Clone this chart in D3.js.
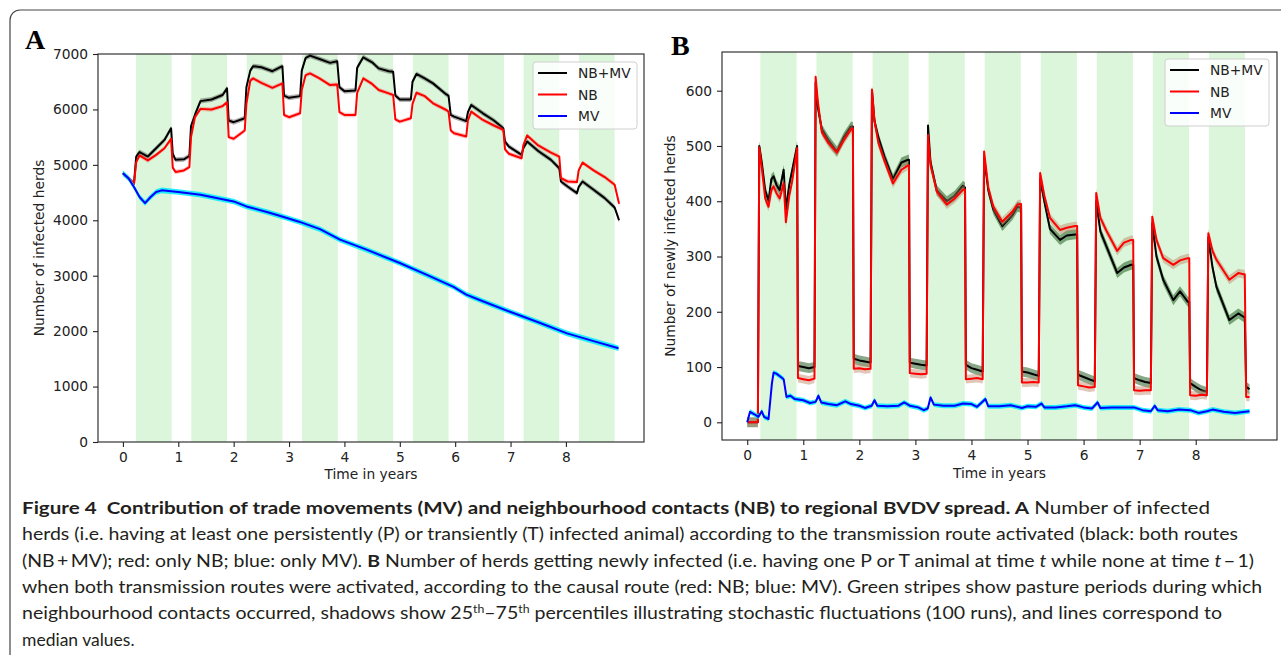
<!DOCTYPE html>
<meta charset="utf-8">
<head>
  <script src="https://d3js.org/d3.v7.min.js"></script>
  <style>
    body { margin: 0; background: #fff; }
    text { font-family: "DejaVu Sans", sans-serif; }
    .tick text { font-size: 13.8px; fill: #222; }
    .letter { font-family: "Liberation Serif", "Times New Roman", "DejaVu Serif", serif; font-weight: bold; font-size: 28px; }
    .caption { font-family: Lato, "Open Sans", sans-serif; font-size: 17.5px; fill: #231f20; white-space: pre; }
  </style>
</head>
<body>
<div id="my_dataviz"></div>
<script>
// pasture periods (green stripes), in years
var pastureStart = [0.235, 1.235, 2.235, 3.235, 4.235, 5.235, 6.235, 7.235, 8.235];
var pastureEnd   = [0.88, 1.88, 2.88, 3.88, 4.88, 5.88, 6.88, 7.88, 8.88];

var seriesNames = ["NB+MV", "NB", "MV"];
var xTicks = [0, 1, 2, 3, 4, 5, 6, 7, 8];
var yTicksA = [0, 1000, 2000, 3000, 4000, 5000, 6000, 7000];
var yTicksB = [0, 100, 200, 300, 400, 500, 600];

// Panel A: number of infected herds (medians)
var tA = [0, 0.1, 0.2, 0.24, 0.3, 0.45, 0.6, 0.75, 0.87, 0.9, 0.95, 1.1, 1.2, 1.23, 1.3, 1.4, 1.6, 1.8, 1.88, 1.91,
  2.0, 2.2, 2.23, 2.3, 2.35, 2.5, 2.7, 2.88, 2.91, 3.0, 3.2, 3.23, 3.3, 3.38, 3.55, 3.74, 3.87, 3.91, 4.0, 4.2,
  4.23, 4.34, 4.5, 4.62, 4.8, 4.88, 4.92, 5.0, 5.2, 5.23, 5.3, 5.45, 5.6, 5.84, 5.88, 5.92, 5.98, 6.2, 6.23, 6.29,
  6.5, 6.7, 6.87, 6.9, 6.97, 7.2, 7.23, 7.3, 7.5, 7.73, 7.88, 7.91, 8.03, 8.2, 8.23, 8.3, 8.5, 8.7, 8.88, 8.96];
var nbmvA = [4850, 4760, 4660, 5150, 5230, 5150, 5300, 5450, 5660, 5200, 5090, 5100, 5160, 5700, 5900, 6150, 6180, 6260, 6380, 5800,
  5770, 5840, 6400, 6700, 6780, 6760, 6690, 6780, 6250, 6210, 6240, 6700, 6930, 6970, 6910, 6840, 6870, 6400, 6330, 6340,
  6750, 6940, 6850, 6740, 6690, 6680, 6250, 6180, 6180, 6500, 6640, 6560, 6470, 6270, 6250, 5900, 5870, 5790, 5950, 6080,
  5930, 5800, 5660, 5420, 5330, 5180, 5300, 5420, 5250, 5090, 4940, 4700, 4610, 4490, 4600, 4700, 4550, 4400, 4230, 4000];
var nbA = [4850, 4760, 4660, 5050, 5170, 5080, 5180, 5300, 5470, 4950, 4870, 4900, 4960, 5500, 5860, 6010, 6000, 6060, 6130, 5500,
  5470, 5620, 6100, 6520, 6560, 6480, 6390, 6470, 5900, 5860, 5930, 6350, 6620, 6650, 6560, 6440, 6450, 5950, 5900, 5900,
  6300, 6560, 6460, 6350, 6290, 6260, 5820, 5780, 5840, 6100, 6300, 6240, 6110, 5990, 5960, 5620, 5570, 5510, 5800, 5960,
  5810, 5710, 5630, 5280, 5200, 5120, 5350, 5530, 5350, 5220, 5150, 4760, 4700, 4690, 4900, 5040, 4900, 4780, 4640, 4300];
var tAmv = [0, 0.1, 0.2, 0.3, 0.4, 0.5, 0.6, 0.7, 1.0, 1.4, 2.0, 2.23, 2.6, 2.89, 3.18, 3.56, 3.92, 4.4, 5.0, 5.5,
  5.97, 6.2, 6.5, 6.99, 7.5, 8.02, 8.5, 8.95];
var mvA = [4850, 4760, 4600, 4420, 4310, 4420, 4510, 4540, 4510, 4460, 4340, 4250, 4150, 4065, 3975, 3840, 3650, 3470, 3230, 3010,
  2800, 2660, 2540, 2350, 2160, 1960, 1820, 1690];
// half-width of the 25th-75th percentile shadow
var spreadA = [45, 40, 50];

// Panel B: number of newly infected herds (medians)
var tB = [0, 0.19, 0.215, 0.26, 0.32, 0.38, 0.43, 0.47, 0.52, 0.58, 0.65, 0.69, 0.75, 0.8, 0.89, 0.905, 1.0, 1.1, 1.2,
  1.22, 1.26, 1.33, 1.45, 1.6, 1.72, 1.85, 1.885, 1.9, 2.0, 2.1, 2.2,
  2.225, 2.27, 2.34, 2.45, 2.6, 2.75, 2.87, 2.885, 2.9, 3.0, 3.1, 3.2,
  3.225, 3.27, 3.38, 3.56, 3.7, 3.85, 3.885, 3.9, 4.0, 4.1, 4.2,
  4.225, 4.3, 4.39, 4.55, 4.73, 4.82, 4.885, 4.9, 5.0, 5.1, 5.2,
  5.225, 5.3, 5.4, 5.58, 5.7, 5.85, 5.885, 5.9, 6.0, 6.1, 6.2,
  6.225, 6.3, 6.4, 6.6, 6.72, 6.85, 6.885, 6.9, 7.0, 7.1, 7.2,
  7.225, 7.3, 7.42, 7.6, 7.72, 7.86, 7.885, 7.9, 8.0, 8.1, 8.2,
  8.225, 8.3, 8.37, 8.6, 8.76, 8.85, 8.875, 8.9, 8.96];
var nbmvB = [0, 0, 500, 470, 420, 400, 440, 445, 430, 420, 457, 385, 430, 455, 500, 102, 100, 98, 100,
  615, 570, 530, 510, 490, 515, 535, 535, 115, 112, 110, 108,
  600, 545, 515, 480, 440, 470, 475, 475, 108, 106, 104, 103,
  537, 470, 420, 400, 410, 428, 425, 104, 98, 95, 92,
  480, 420, 385, 355, 375, 390, 388, 92, 90, 87, 84,
  440, 400, 350, 330, 338, 340, 340, 86, 82, 78, 74,
  400, 345, 320, 270, 280, 285, 285, 80, 76, 73, 71,
  360, 300, 258, 221, 237, 218, 218, 71, 64, 58, 55,
  335, 280, 245, 185, 197, 191, 191, 64, 60];
var nbB = [0, 0, 497, 460, 405, 390, 420, 427, 415, 405, 433, 362, 410, 435, 496, 80, 78, 76, 79,
  625, 580, 525, 505, 488, 510, 530, 532, 97, 98, 96, 97,
  602, 545, 505, 472, 432, 457, 465, 465, 89, 88, 87, 88,
  520, 465, 418, 394, 405, 421, 421, 78, 79, 80, 78,
  490, 425, 390, 363, 381, 394, 395, 72, 72, 73, 72,
  451, 410, 370, 348, 352, 355, 355, 67, 65, 63, 64,
  415, 370, 348, 310, 325, 330, 330, 58, 57, 58, 58,
  372, 330, 297, 285, 293, 297, 297, 49, 48, 50, 49,
  342, 310, 294, 258, 270, 268, 268, 46, 46];
var tBmv = [0, 0.05, 0.12, 0.2, 0.26, 0.3, 0.38, 0.44, 0.47, 0.52, 0.6, 0.65, 0.7, 0.77, 0.85, 1.0, 1.12, 1.22, 1.27, 1.32,
  1.45, 1.6, 1.75, 1.85, 2.0, 2.1, 2.22, 2.27, 2.32, 2.5, 2.7, 2.8, 2.9, 3.05, 3.15, 3.22, 3.27, 3.33, 3.5, 3.7,
  3.85, 4.0, 4.1, 4.25, 4.3, 4.5, 4.7, 4.9, 5.0, 5.15, 5.25, 5.3, 5.5, 5.7, 5.85, 6.0, 6.15, 6.25, 6.3, 6.5,
  6.7, 6.9, 7.05, 7.2, 7.27, 7.32, 7.5, 7.7, 7.9, 8.05, 8.2, 8.3, 8.5, 8.7, 8.96];
var mvB = [0, 19, 15, 10, 20, 10, 6, 70, 90, 88, 82, 78, 46, 48, 42, 40, 35, 37, 48, 36,
  33, 31, 38, 33, 30, 26, 30, 40, 30, 29, 30, 36, 30, 27, 22, 25, 45, 32, 30, 30,
  34, 33, 28, 42, 29, 29, 31, 26, 29, 28, 34, 27, 27, 29, 31, 27, 25, 36, 26, 27,
  27, 27, 22, 20, 30, 22, 20, 23, 22, 17, 20, 23, 19, 17, 20];
var spreadB = [9, 8, 4.5];

var lineColors = ["#000000", "#ff0000", "#0000ff"];
var bandColorsA = ["rgba(0,0,0,0.3)", "rgba(255,60,60,0.3)", "rgba(0,235,255,0.85)"];
var bandColorsB = ["rgba(20,80,20,0.5)", "rgba(190,130,100,0.45)", "rgba(0,235,255,0.85)"];

var W = 1281, H = 655;
var svg = d3.select("#my_dataviz").append("svg")
  .attr("width", W).attr("height", H);

// figure frame
svg.append("rect")
  .attr("x", 10).attr("y", 10).attr("width", W + 20).attr("height", H + 20)
  .attr("rx", 10).attr("fill", "none").attr("stroke", "#444").attr("stroke-width", 1.2);

function drawPanel(p) {
  var x = d3.scaleLinear().domain(p.xDomain).range([p.left, p.right]);
  var y = d3.scaleLinear().domain(p.yDomain).range([p.bottom, p.top]);
  var g = svg.append("g");

  // stripes
  g.selectAll("rect.stripe")
    .data(pastureStart)
    .enter().append("rect")
    .attr("class", "stripe")
    .attr("x", function(d) { return x(d); })
    .attr("width", function(d, i) { return x(pastureEnd[i]) - x(d); })
    .attr("y", p.top).attr("height", p.bottom - p.top)
    .attr("fill", "#dbf6da");

  var series = [
    { t: p.t, v: p.nbmv, s: p.spread[0], c: lineColors[0], b: p.bands[0] },
    { t: p.t, v: p.nb, s: p.spread[1], c: lineColors[1], b: p.bands[1] },
    { t: p.tmv, v: p.mv, s: p.spread[2], c: lineColors[2], b: p.bands[2] }
  ];
  series.forEach(function(se) {
    var pts = se.t.map(function(t, i) { return [t, se.v[i]]; });
    var area = d3.area()
      .x(function(d) { return x(d[0]); })
      .y0(function(d) { return y(d[1] - se.s); })
      .y1(function(d) { return y(d[1] + se.s); });
    g.append("path").attr("d", area(pts)).attr("fill", se.b);
    var line = d3.line()
      .x(function(d) { return x(d[0]); })
      .y(function(d) { return y(d[1]); });
    g.append("path").attr("d", line(pts))
      .attr("fill", "none").attr("stroke", se.c).attr("stroke-width", 2)
      .attr("stroke-linejoin", "round");
  });

  // axes
  var xa = g.append("g").attr("transform", "translate(0," + p.bottom + ")")
    .call(d3.axisBottom(x).tickValues(xTicks).tickFormat(d3.format("d"))
      .tickSize(5).tickPadding(5).tickSizeOuter(0));
  var ya = g.append("g").attr("transform", "translate(" + p.left + ",0)")
    .call(d3.axisLeft(y).tickValues(p.yTicks).tickFormat(d3.format("d"))
      .tickSize(5).tickPadding(5).tickSizeOuter(0));
  [xa, ya].forEach(function(a) {
    a.select(".domain").remove();
    a.selectAll(".tick line").attr("stroke", "#222").attr("stroke-width", 1.1);
  });

  // spines
  g.append("rect")
    .attr("x", p.left).attr("y", p.top)
    .attr("width", p.right - p.left).attr("height", p.bottom - p.top)
    .attr("fill", "none").attr("stroke", "#222").attr("stroke-width", 1.1);

  // axis labels
  g.append("text")
    .attr("x", (p.left + p.right) / 2).attr("y", p.xLabelY)
    .attr("text-anchor", "middle").attr("font-size", 13.8).attr("fill", "#222")
    .text("Time in years");
  g.append("text")
    .attr("transform", "translate(" + p.yLabelX + "," + (p.top + p.bottom) / 2 + ") rotate(-90)")
    .attr("text-anchor", "middle").attr("font-size", 13.8).attr("fill", "#222")
    .text(p.yLabel);

  // legend
  var lg = g.append("g").attr("transform", "translate(" + p.legend[0] + "," + p.legend[1] + ")");
  lg.append("rect").attr("width", 104).attr("height", 67).attr("rx", 3)
    .attr("fill", "rgba(255,255,255,0.85)").attr("stroke", "#d0d0d0");
  seriesNames.forEach(function(name, i) {
    var yy = 11 + i * 21.5;
    lg.append("line").attr("x1", 5).attr("x2", 34).attr("y1", yy).attr("y2", yy)
      .attr("stroke", lineColors[i]).attr("stroke-width", 2);
    lg.append("text").attr("x", 45).attr("y", yy + 5)
      .attr("font-size", 13.8).attr("fill", "#222").text(name);
  });

  // panel letter
  svg.append("text").attr("class", "letter")
    .attr("x", p.letterPos[0]).attr("y", p.letterPos[1])
    .attr("fill", "#000")
    .text(p.letter);
}

drawPanel({
  left: 98, right: 644, top: 54, bottom: 442,
  xDomain: [-0.45, 9.41], yDomain: [0, 7000], yTicks: yTicksA,
  t: tA, nbmv: nbmvA, nb: nbA, tmv: tAmv, mv: mvA,
  spread: spreadA, bands: bandColorsA,
  xLabelY: 479, yLabelX: 44, yLabel: "Number of infected herds",
  legend: [533, 62], letter: "A", letterPos: [25, 49]
});

drawPanel({
  left: 722, right: 1277, top: 52, bottom: 440,
  xDomain: [-0.45, 9.45], yDomain: [-32, 670], yTicks: yTicksB,
  t: tB, nbmv: nbmvB, nb: nbB, tmv: tBmv, mv: mvB,
  spread: spreadB, bands: bandColorsB,
  xLabelY: 478, yLabelX: 675, yLabel: "Number of newly infected herds",
  legend: [1165, 59], letter: "B", letterPos: [671, 55]
});

// caption
var captionLines = [
  [["Figure 4  Contribution of trade movements (MV) and neighbourhood contacts (NB) to regional BVDV spread. A", "b"], [" Number of infected", ""]],
  [["herds (i.e. having at least one persistently (P) or transiently (T) infected animal) according to the transmission route activated (black: both routes", ""]],
  [["(NB\u2009+\u2009MV); red: only NB; blue: only MV). ", ""], ["B", "b"], [" Number of herds getting newly infected (i.e. having one P or T animal at time ", ""], ["t", "i"], [" while none at time ", ""], ["t", "i"], ["\u2009\u2212\u20091)", ""]],
  [["when both transmission routes were activated, according to the causal route (red: NB; blue: MV). Green stripes show pasture periods during which", ""]],
  [["neighbourhood contacts occurred, shadows show 25", ""], ["th", "sup"], ["\u201375", ""], ["th", "sup"], [" percentiles illustrating stochastic fluctuations (100 runs), and lines correspond to", ""]],
  [["median values.", ""]]
];
var captionWidths = [1188, 1216, 1232, 1240, 1200, 0];

captionLines.forEach(function(segs, i) {
  var txt = svg.append("text").attr("class", "caption")
    .attr("x", 22).attr("y", 514 + i * 26.3);
  if (captionWidths[i]) txt.attr("textLength", captionWidths[i]).attr("lengthAdjust", "spacingAndGlyphs");
  var shifted = false;
  segs.forEach(function(s) {
    var ts = txt.append("tspan").text(s[0]);
    if (s[1] === "b") ts.attr("font-weight", "bold");
    if (s[1] === "i") ts.attr("font-style", "italic");
    if (s[1] === "sup") { ts.attr("font-size", 11).attr("dy", -6); shifted = true; }
    else if (shifted) { ts.attr("dy", 6); shifted = false; }
  });
});
</script>
</body>
